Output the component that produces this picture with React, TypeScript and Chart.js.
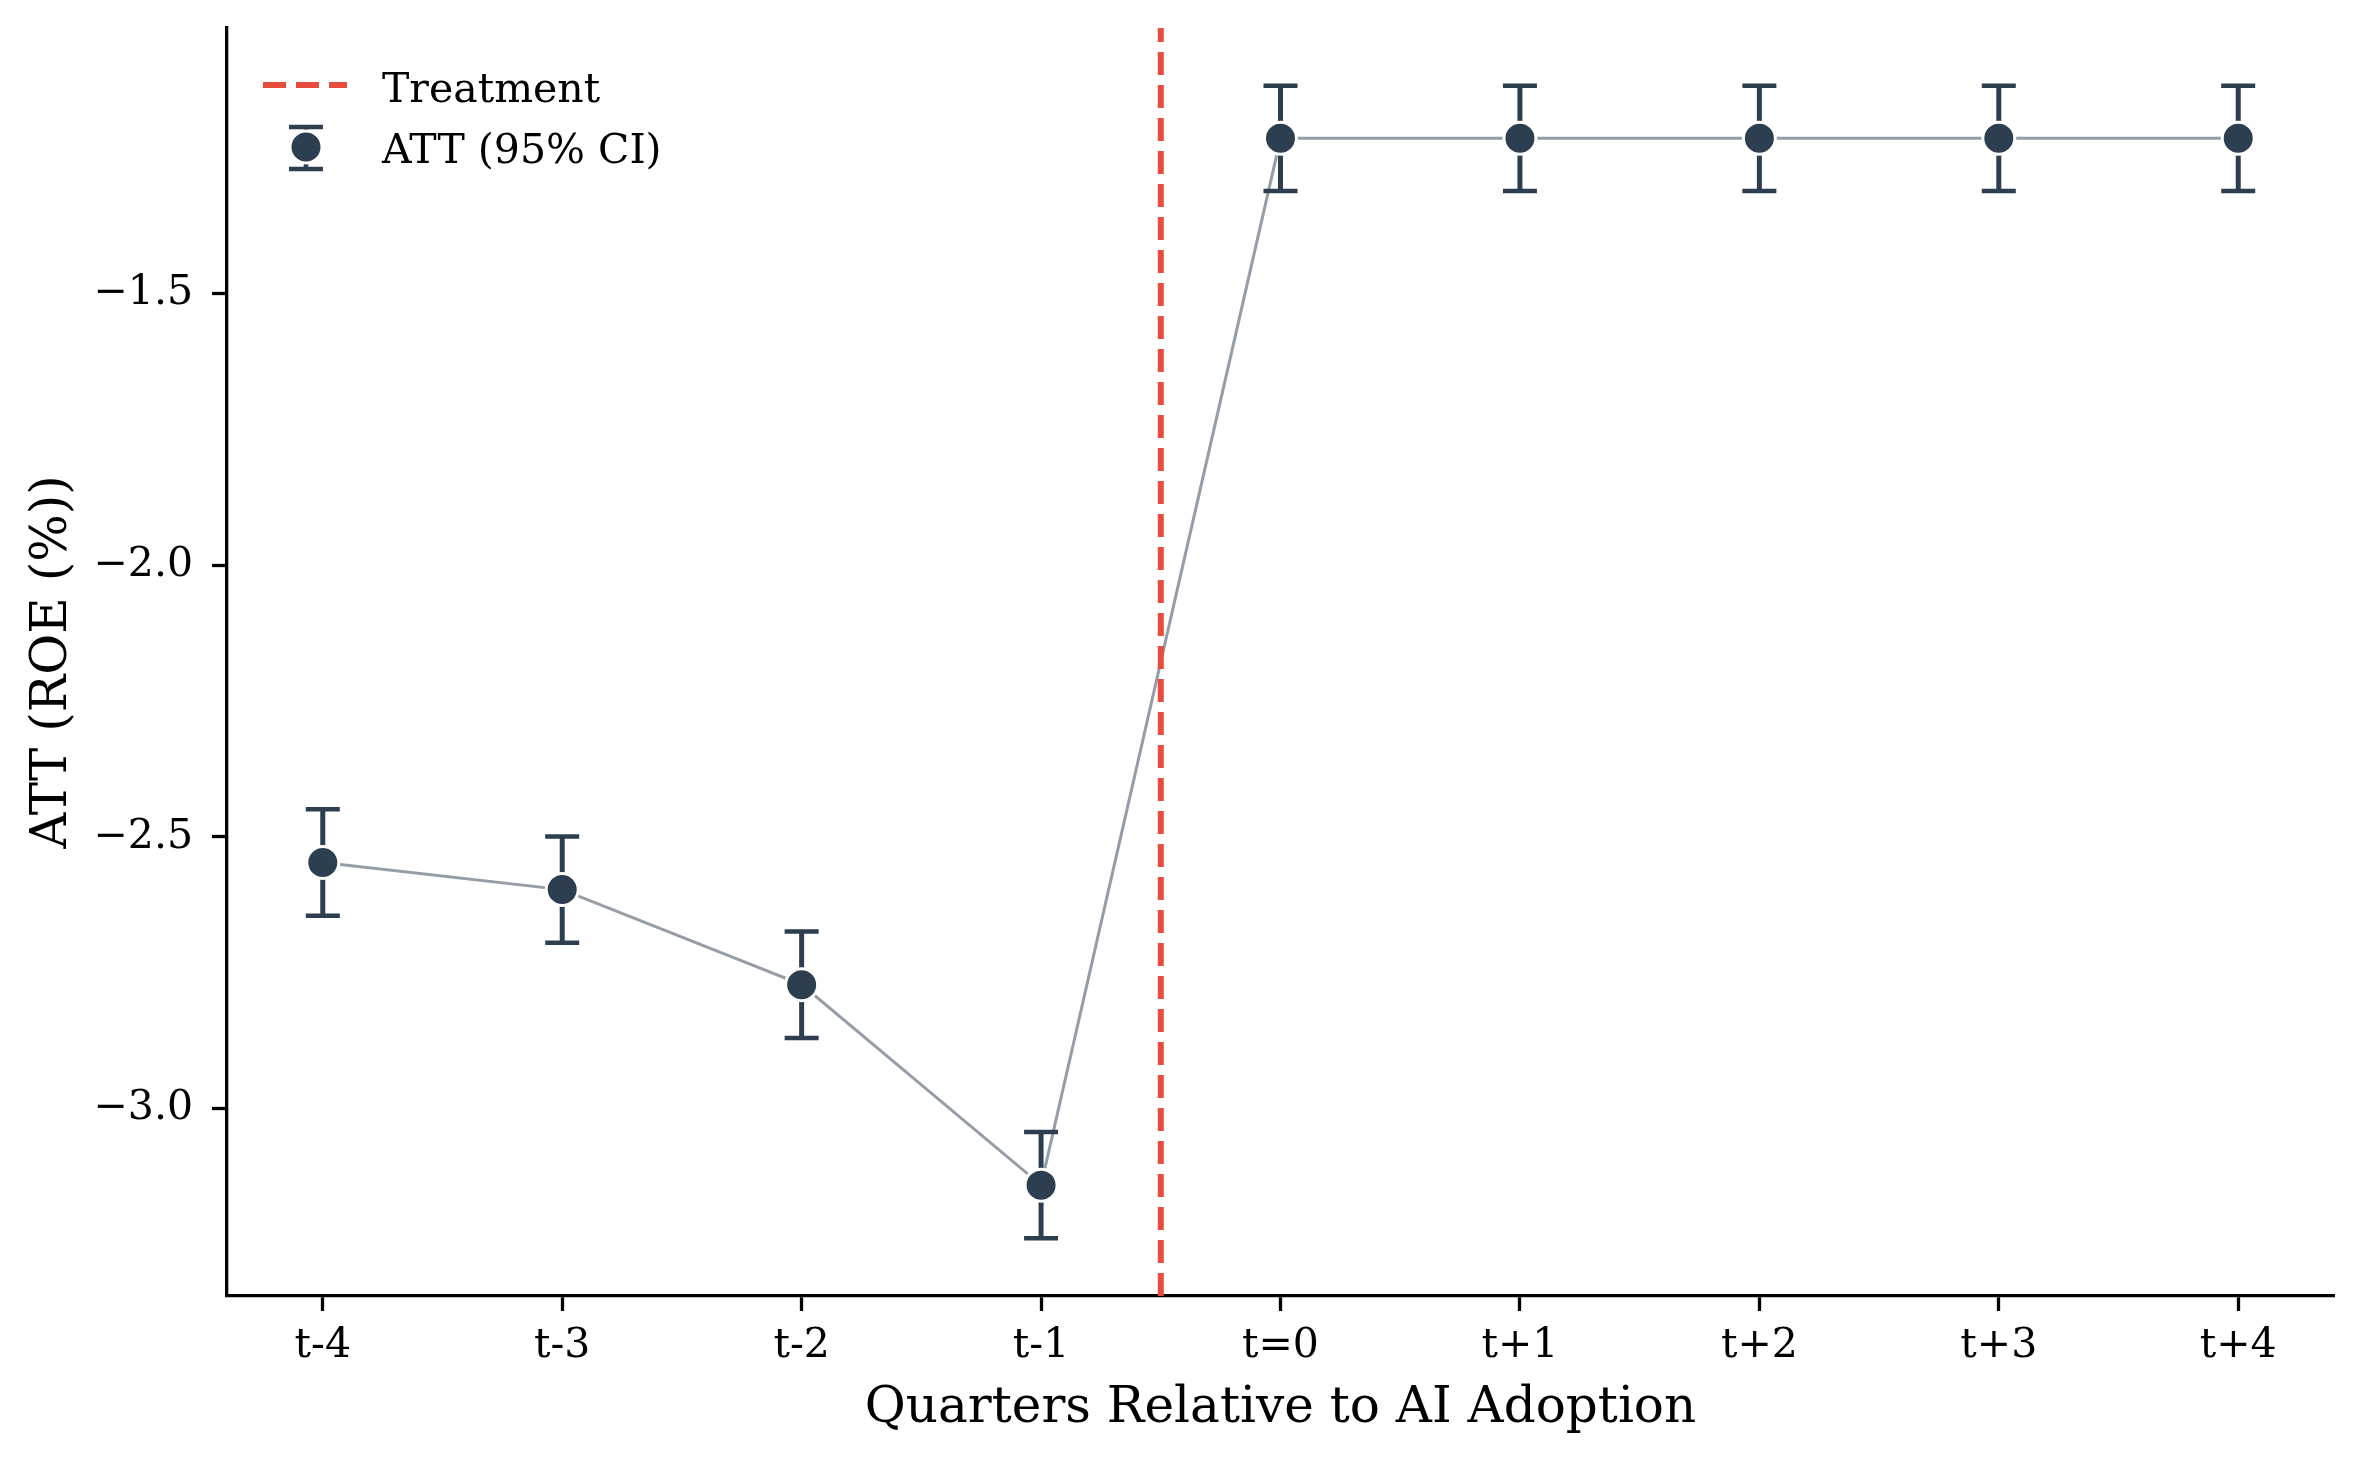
import React, { useEffect, useRef } from "react";
import { Chart, registerables } from "chart.js";

Chart.register(...registerables);

const categories = ["t-4", "t-3", "t-2", "t-1", "t=0", "t+1", "t+2", "t+3", "t+4"];
const attValues = [-2.547, -2.597, -2.772, -3.141, -1.214, -1.214, -1.214, -1.214, -1.214];
const ciHalfWidths = [0.098, 0.098, 0.098, 0.098, 0.097, 0.097, 0.097, 0.097, 0.097];
const yTickValues = [-3.0, -2.5, -2.0, -1.5];
const treatmentX = 3.5;

const NAVY = "#2c3e50";
const RED = "#e74c3c";
const GRAY = "rgba(44,62,80,0.5)";
const FONT = "'DejaVu Serif', serif";

const lows = attValues.map((v, i) => v - ciHalfWidths[i]);
const highs = attValues.map((v, i) => v + ciHalfWidths[i]);
const dataMin = Math.min(...lows);
const dataMax = Math.max(...highs);
const yPad = (dataMax - dataMin) * 0.05;
const Y_MIN = dataMin - yPad;
const Y_MAX = dataMax + yPad;
const X_MIN = -0.4;
const X_MAX = categories.length - 1 + 0.4;

const fmt = (v: number) => {
  const s = Math.abs(v).toFixed(1);
  return v < 0 ? "\u2212" + s : s;
};

const errorBarPlugin = {
  id: "errorBars",
  beforeDatasetDraw(chart: any, args: any) {
    if (args.index !== 2) return;
    const { ctx, scales } = chart;
    const xs = scales.x;
    const ys = scales.y;
    ctx.save();
    ctx.strokeStyle = NAVY;
    ctx.lineCap = "butt";
    const cap = 17;
    attValues.forEach((_, i) => {
      const px = xs.getPixelForValue(i);
      const pLo = ys.getPixelForValue(lows[i]);
      const pHi = ys.getPixelForValue(highs[i]);
      ctx.beginPath();
      ctx.lineWidth = 5;
      ctx.moveTo(px, pLo);
      ctx.lineTo(px, pHi);
      ctx.stroke();
      ctx.beginPath();
      ctx.lineWidth = 4.5;
      ctx.moveTo(px - cap, pLo);
      ctx.lineTo(px + cap, pLo);
      ctx.moveTo(px - cap, pHi);
      ctx.lineTo(px + cap, pHi);
      ctx.stroke();
    });
    ctx.restore();
  },
};

const legendPlugin = {
  id: "customLegend",
  afterDraw(chart: any) {
    const { ctx } = chart;
    ctx.save();
    // Treatment entry
    ctx.strokeStyle = RED;
    ctx.lineWidth = 6;
    ctx.setLineDash([23, 10]);
    ctx.beginPath();
    ctx.moveTo(263, 85);
    ctx.lineTo(347, 85);
    ctx.stroke();
    ctx.setLineDash([]);
    ctx.fillStyle = "#000";
    ctx.font = `41px ${FONT}`;
    ctx.textAlign = "left";
    ctx.textBaseline = "alphabetic";
    ctx.fillText("Treatment", 382, 102);
    // ATT entry
    const cx = 306;
    const cy = 147;
    ctx.strokeStyle = NAVY;
    ctx.lineWidth = 4.5;
    ctx.beginPath();
    ctx.moveTo(cx, 127);
    ctx.lineTo(cx, 169);
    ctx.moveTo(cx - 17, 127);
    ctx.lineTo(cx + 17, 127);
    ctx.moveTo(cx - 17, 169);
    ctx.lineTo(cx + 17, 169);
    ctx.stroke();
    ctx.beginPath();
    ctx.arc(cx, cy, 16, 0, Math.PI * 2);
    ctx.fillStyle = NAVY;
    ctx.fill();
    ctx.strokeStyle = "#fff";
    ctx.lineWidth = 3;
    ctx.stroke();
    ctx.fillStyle = "#000";
    ctx.fillText("ATT (95% CI)", 382, 163);
    ctx.restore();
  },
};

export default function App() {
  const ref = useRef<HTMLCanvasElement | null>(null);

  useEffect(() => {
    document.body.style.margin = "0";
    const canvas = ref.current;
    if (!canvas) return;
    const points = attValues.map((y, i) => ({ x: i, y }));
    const chart = new Chart(canvas, {
      type: "line",
      data: {
        datasets: [
          {
            label: "ATT line",
            data: points,
            borderColor: GRAY,
            borderWidth: 3,
            pointRadius: 0,
            fill: false,
            order: 3,
          } as any,
          {
            label: "Treatment",
            data: [
              { x: treatmentX, y: Y_MIN },
              { x: treatmentX, y: Y_MAX },
            ],
            borderColor: RED,
            borderWidth: 6,
            borderDash: [23, 10],
            pointRadius: 0,
            fill: false,
            order: 2,
          } as any,
          {
            label: "ATT (95% CI)",
            data: points,
            showLine: false,
            pointRadius: 16,
            pointHoverRadius: 16,
            pointBackgroundColor: NAVY,
            pointBorderColor: "#fff",
            pointBorderWidth: 3,
            order: 1,
          } as any,
        ],
      },
      options: {
        animation: false,
        responsive: false,
        devicePixelRatio: 1,
        events: [],
        layout: { padding: { top: 28, right: 28, left: 0, bottom: 0 } },
        plugins: {
          legend: { display: false },
          tooltip: { enabled: false },
          title: { display: false },
        },
        scales: {
          x: {
            type: "linear",
            min: X_MIN,
            max: X_MAX,
            afterBuildTicks: (scale: any) => {
              scale.ticks = categories.map((_, i) => ({ value: i }));
            },
            afterFit: (scale: any) => {
              scale.height = 167;
              scale.paddingLeft = 0;
              scale.paddingRight = 0;
            },
            ticks: {
              callback: (v: any) => categories[Math.round(Number(v))] ?? "",
              color: "#000",
              font: { family: FONT, size: 41 },
              padding: 11,
              maxRotation: 0,
              autoSkip: false,
            },
            grid: {
              display: true,
              drawOnChartArea: false,
              drawTicks: true,
              tickLength: 15,
              tickWidth: 3.3,
              tickColor: "#000",
            },
            border: { display: true, color: "#000", width: 3.3 },
            title: {
              display: true,
              text: "Quarters Relative to AI Adoption",
              color: "#000",
              font: { family: FONT, size: 50 },
              padding: { top: 0, bottom: 24 },
            },
          },
          y: {
            type: "linear",
            min: Y_MIN,
            max: Y_MAX,
            afterBuildTicks: (scale: any) => {
              scale.ticks = yTickValues.map((v) => ({ value: v }));
            },
            afterFit: (scale: any) => {
              scale.width = 227;
              scale.paddingTop = 0;
              scale.paddingBottom = 0;
            },
            ticks: {
              callback: (v: any) => fmt(Number(v)),
              color: "#000",
              font: { family: FONT, size: 41 },
              padding: 19,
            },
            grid: {
              display: true,
              drawOnChartArea: false,
              drawTicks: true,
              tickLength: 15,
              tickWidth: 3.3,
              tickColor: "#000",
            },
            border: { display: true, color: "#000", width: 3.3 },
            title: {
              display: true,
              text: "ATT (ROE (%))",
              color: "#000",
              font: { family: FONT, size: 50 },
              padding: { top: 23, bottom: 0 },
            },
          },
        },
      } as any,
      plugins: [errorBarPlugin, legendPlugin],
    });
    return () => chart.destroy();
  }, []);

  return (
    <canvas
      ref={ref}
      width={2362}
      height={1463}
      style={{ display: "block", width: 2362, height: 1463 }}
    />
  );
}
